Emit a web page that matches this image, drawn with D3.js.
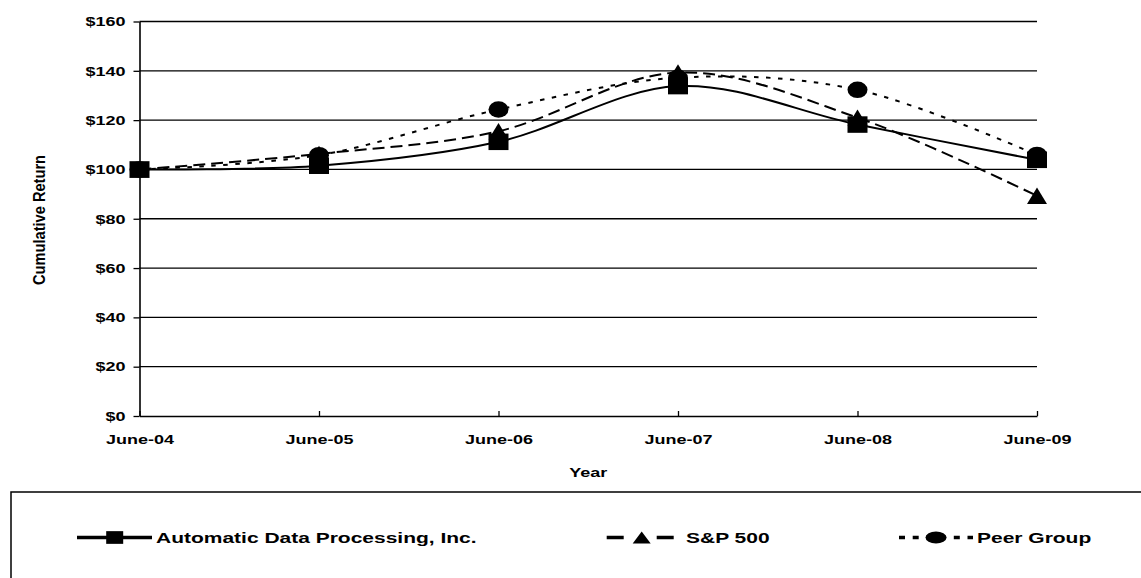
<!DOCTYPE html>
<html>
<head>
<meta charset="utf-8">
<script src="https://cdn.jsdelivr.net/npm/d3@7"></script>
<style>
  html, body { margin: 0; padding: 0; background: #fff; }
  svg { display: block; }
  text { font-family: "Liberation Sans", Arial, sans-serif; font-weight: bold; fill: #000; }
</style>
</head>
<body>
<svg id="chart" width="1141" height="578"></svg>
<script>
const years = ["June-04", "June-05", "June-06", "June-07", "June-08", "June-09"];
const adp = [100, 101.5, 111.2, 133.8, 118.2, 103.9];
const sp500 = [100, 106.3, 115.5, 139.3, 121.0, 89.3];
const peer = [100, 105.8, 124.3, 137.2, 132.3, 105.9];
const yTicks = [0, 20, 40, 60, 80, 100, 120, 140, 160];
const seriesNames = ["Automatic Data Processing, Inc.", "S&P 500", "Peer Group"];

const svg = d3.select("#chart");
const SX = 1.5; // horizontal stretch of the reference text

const x = d3.scalePoint().domain(years).range([139.5, 1037]);
const y = d3.scaleLinear().domain([0, 160]).range([416, 21.5]);

// gridlines
svg.append("g").selectAll("line").data(yTicks.filter(d => d > 0)).join("line")
  .attr("x1", x.range()[0]).attr("x2", x.range()[1])
  .attr("y1", d => y(d)).attr("y2", d => y(d))
  .attr("stroke", "#000").attr("stroke-width", 1.3);

// y axis
const gy = svg.append("g").attr("transform", `translate(${x.range()[0]},0)`)
  .call(d3.axisLeft(y).tickValues(yTicks).tickSize(6).tickSizeOuter(0).tickFormat(d => "$" + d));
gy.select(".domain").attr("stroke", "#000").attr("stroke-width", 1.6);
gy.selectAll(".tick line").attr("stroke", "#000").attr("stroke-width", 1.3);
gy.selectAll(".tick text")
  .attr("x", 0).attr("dy", null).attr("y", 4.3)
  .attr("text-anchor", "end")
  .attr("transform", `translate(-14,0) scale(${SX},1)`)
  .style("font-size", "12px");
gy.attr("font-family", null).attr("font-size", null);

// x axis
const gx = svg.append("g").attr("transform", `translate(0,${y(0)})`)
  .call(d3.axisBottom(x).tickSize(-5).tickSizeOuter(0));
gx.select(".domain").attr("stroke", "#000").attr("stroke-width", 1.6);
gx.selectAll(".tick line").attr("stroke", "#000").attr("stroke-width", 1.3);
gx.selectAll(".tick text")
  .attr("y", 0).attr("dy", null)
  .attr("text-anchor", "middle")
  .attr("transform", `translate(0,28) scale(${SX},1)`)
  .style("font-size", "12px");
gx.attr("font-family", null).attr("font-size", null);

// axis titles
svg.append("text").attr("text-anchor", "middle")
  .attr("transform", `translate(${(x.range()[0] + x.range()[1]) / 2},477) scale(${SX},1)`)
  .style("font-size", "12px").text("Year");
svg.append("text").attr("text-anchor", "middle")
  .attr("transform", `translate(45,220) scale(${SX},1) rotate(-90)`)
  .attr("textLength", 130).attr("lengthAdjust", "spacingAndGlyphs")
  .style("font-size", "11px").text("Cumulative Return");

// markers
function drawMarker(g, kind, cx, cy, w, h) {
  if (kind === "square") {
    g.append("rect").attr("x", cx - w / 2).attr("y", cy - h / 2).attr("width", w).attr("height", h).attr("fill", "#000");
  } else if (kind === "triangle") {
    g.append("path").attr("d", `M${cx},${cy - h / 2}L${cx + w / 2},${cy + h / 2}L${cx - w / 2},${cy + h / 2}Z`).attr("fill", "#000");
  } else {
    g.append("ellipse").attr("cx", cx).attr("cy", cy).attr("rx", w / 2).attr("ry", h / 2).attr("fill", "#000");
  }
}

const series = [
  { name: seriesNames[0], values: adp, dash: null, legendDash: null, marker: "square", lw: 17, lh: 12.7 },
  { name: seriesNames[1], values: sp500, dash: "12,6", legendDash: "17,33", marker: "triangle", lw: 18, lh: 12 },
  { name: seriesNames[2], values: peer, dash: "4.5,7.5", legendDash: "6,7.7", marker: "circle", lw: 21, lh: 12 }
];

const line = d3.line().x((d, i) => x(years[i])).y(d => y(d)).curve(d3.curveCatmullRom.alpha(0));

series.forEach(s => {
  const g = svg.append("g");
  g.append("path").attr("d", line(s.values)).attr("fill", "none")
    .attr("stroke", "#000").attr("stroke-width", 2)
    .attr("stroke-dasharray", s.dash);
  s.values.forEach((v, i) => drawMarker(g, s.marker, x(years[i]), y(v), 20, 16.5));
});

// legend
svg.append("rect").attr("x", 11).attr("y", 492).attr("width", 1200).attr("height", 200)
  .attr("fill", "none").attr("stroke", "#000").attr("stroke-width", 1.5);

const legendItems = [
  { x1: 77, x2: 152, mx: 114.7, tx: 156 },
  { x1: 606.7, x2: 674, mx: 641.7, tx: 686 },
  { x1: 899, x2: 973, mx: 936, tx: 977 }
];
const ly = 537.5;
series.forEach((s, i) => {
  const L = legendItems[i];
  const g = svg.append("g");
  g.append("line").attr("x1", L.x1).attr("x2", L.x2).attr("y1", ly).attr("y2", ly)
    .attr("stroke", "#000").attr("stroke-width", 3.5)
    .attr("stroke-dasharray", s.legendDash);
  drawMarker(g, s.marker, L.mx, ly, s.lw, s.lh);
  g.append("text").attr("transform", `translate(${L.tx},${ly + 5}) scale(${SX},1)`)
    .style("font-size", "14px").text(s.name);
});
</script>
</body>
</html>
